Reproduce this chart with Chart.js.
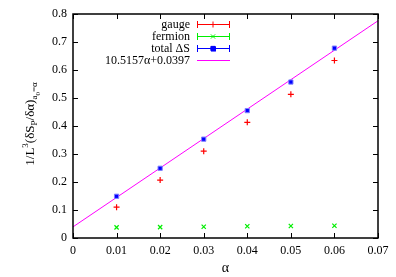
<!DOCTYPE html>
<html>
<head>
<meta charset="utf-8">
<script src="https://cdn.jsdelivr.net/npm/chart.js@4"></script>
<style>
  body { margin: 0; background: #fff; }
  #wrap { width: 396px; height: 277px; }
</style>
</head>
<body>
<div id="wrap"><canvas id="myChart" width="396" height="277"></canvas></div>
<script>
// values
let alpha = [0.01, 0.02, 0.03, 0.04, 0.05, 0.06];
let gauge = [0.110, 0.207, 0.310, 0.413, 0.513, 0.634];
let fermion = [0.038, 0.039, 0.040, 0.042, 0.043, 0.044];
let total = [0.149, 0.249, 0.353, 0.455, 0.557, 0.678];
let fitX = [0, 0.07];
let fitY = [0.0397, 0.7758];
let xTicks = [0, 0.01, 0.02, 0.03, 0.04, 0.05, 0.06, 0.07];
let yTicks = [0, 0.1, 0.2, 0.3, 0.4, 0.5, 0.6, 0.7, 0.8];

const serif = "'Liberation Serif', 'DejaVu Serif', serif";

function pts(xs, ys) {
    return xs.map((x, i) => ({ x: x, y: ys[i] }));
}

// frame, inward ticks on all 4 sides, legend, y title
const decor = {
    id: 'decor',
    afterDraw(chart) {
        const ctx = chart.ctx;
        const a = chart.chartArea;
        const xs = chart.scales.x, ys = chart.scales.y;
        ctx.save();
        ctx.strokeStyle = '#000';
        ctx.lineWidth = 1;
        ctx.beginPath();
        xTicks.forEach(v => {
            const px = Math.round(xs.getPixelForValue(v)) + 0.5;
            ctx.moveTo(px, a.bottom); ctx.lineTo(px, a.bottom - 5);
            ctx.moveTo(px, a.top); ctx.lineTo(px, a.top + 5);
        });
        yTicks.forEach(v => {
            const py = Math.round(ys.getPixelForValue(v)) + 0.5;
            ctx.moveTo(a.left, py); ctx.lineTo(a.left + 5, py);
            ctx.moveTo(a.right, py); ctx.lineTo(a.right - 5, py);
        });
        ctx.stroke();
        ctx.lineWidth = 1.5;
        ctx.strokeRect(a.left, a.top, a.right - a.left, a.bottom - a.top);

        // legend
        const items = [
            { t: 'gauge', c: '#ff0000', p: 'cross', bar: true },
            { t: 'fermion', c: '#00ee00', p: 'crossRot', bar: true },
            { t: 'total \u0394S', c: '#0000ff', p: 'rect', bar: true },
            { t: '10.5157\u03b1+0.0397', c: '#ff00ff', p: null, bar: false }
        ];
        ctx.font = '12px ' + serif;
        ctx.textAlign = 'right';
        ctx.textBaseline = 'middle';
        items.forEach((it, i) => {
            const y = 24 + i * 12;
            ctx.fillStyle = '#000';
            ctx.fillText(it.t, 190, y + 1);
            ctx.strokeStyle = it.c;
            ctx.lineWidth = 1;
            ctx.beginPath();
            ctx.moveTo(197, y + 0.5); ctx.lineTo(230, y + 0.5);
            if (it.bar) {
                ctx.moveTo(197.5, y - 3); ctx.lineTo(197.5, y + 4);
                ctx.moveTo(229.5, y - 3); ctx.lineTo(229.5, y + 4);
            }
            ctx.stroke();
            if (it.p) {
                Chart.helpers.drawPoint(ctx, {
                    pointStyle: it.p, radius: 3, borderWidth: 1.2,
                    rotation: 0
                }, 213, y + 0.5);
                if (it.p === 'rect') {
                    ctx.fillStyle = it.c;
                    ctx.fillRect(211, y - 1.5, 5, 5);
                }
            }
        });

        // rotated y axis title with sub/superscripts
        const parts = [
            ['1/L', 13, 0], ['3', 9, -6], ['(\u03b4S', 13, 0], ['P', 9, 3],
            ['/\u03b4\u03b1)', 13, 0], ['a', 9, 3], ['0', 7, 6], ['=\u03b1', 9, 3]
        ];
        let w = 0;
        parts.forEach(p => { ctx.font = p[1] + 'px ' + serif; w += ctx.measureText(p[0]).width; });
        ctx.translate(30, 124);
        ctx.rotate(-Math.PI / 2);
        ctx.textAlign = 'left';
        ctx.textBaseline = 'alphabetic';
        ctx.fillStyle = '#000';
        let x = -w / 2;
        parts.forEach(p => {
            ctx.font = p[1] + 'px ' + serif;
            ctx.fillText(p[0], x, 4 + p[2]);
            x += ctx.measureText(p[0]).width;
        });
        ctx.restore();
    }
};

const ctx = document.getElementById('myChart');
new Chart(ctx, {
    type: 'scatter',
    data: {
        datasets: [{
            label: 'gauge',
            data: pts(alpha, gauge),
            pointStyle: 'cross',
            radius: 3,
            borderColor: '#ff0000',
            borderWidth: 1.2
        }, {
            label: 'fermion',
            data: pts(alpha, fermion),
            pointStyle: 'crossRot',
            radius: 3,
            borderColor: '#00ee00',
            borderWidth: 1.2
        }, {
            label: 'total',
            data: pts(alpha, total),
            pointStyle: 'rect',
            radius: 3,
            backgroundColor: '#0000ff',
            borderColor: '#8080ff',
            borderWidth: 1
        }, {
            label: 'fit',
            data: pts(fitX, fitY),
            showLine: true,
            pointRadius: 0,
            borderColor: '#ff00ff',
            borderWidth: 1
        }]
    },
    options: {
        responsive: false,
        animation: false,
        layout: { padding: { top: 14, right: 18, left: 0, bottom: 0 } },
        plugins: { legend: { display: false }, tooltip: { enabled: false } },
        scales: {
            x: {
                type: 'linear',
                min: 0, max: 0.07,
                afterBuildTicks: s => { s.ticks = xTicks.map(v => ({ value: v })); },
                afterFit: s => { s.height = 39; },
                grid: { display: false, drawTicks: false },
                border: { display: false },
                ticks: {
                    padding: 6, color: '#000',
                    font: { family: serif, size: 12 },
                    callback: v => String(+v.toFixed(2))
                },
                title: {
                    display: true, text: '\u03b1', color: '#000',
                    font: { family: serif, size: 14 },
                    padding: { top: 0, bottom: 0 }
                }
            },
            y: {
                min: 0, max: 0.8,
                afterBuildTicks: s => { s.ticks = yTicks.map(v => ({ value: v })); },
                afterFit: s => { s.width = 73; },
                grid: { display: false, drawTicks: false },
                border: { display: false },
                ticks: {
                    padding: 6, color: '#000',
                    font: { family: serif, size: 12 },
                    callback: v => String(+v.toFixed(1))
                }
            }
        }
    },
    plugins: [decor]
});
</script>
</body>
</html>
